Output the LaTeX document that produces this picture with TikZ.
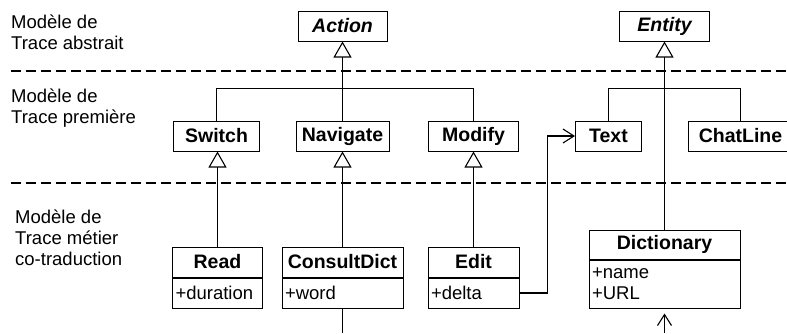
\documentclass[tikz,border=0pt]{standalone}
\usepackage{fontspec}
\setmainfont{Liberation Sans}
\usetikzlibrary{arrows.meta}
\tikzset{
	layer/.style={align=left, anchor=base west, inner sep=0pt,
			font=\fontsize{18.5bp}{21bp}\selectfont},
	cls/.style={draw, line width=1bp, minimum height=30bp, inner sep=0pt,
			font=\fontsize{19.5bp}{21bp}\selectfont\bfseries},
	abstractcls/.style={cls, font=\fontsize{19.5bp}{21bp}\selectfont\bfseries\itshape},
	attr/.style={draw, line width=1bp, anchor=north, minimum height=30bp,
			inner xsep=3bp, inner ysep=0pt, align=left,
			font=\fontsize{18.5bp}{21bp}\selectfont},
	gen/.style={line width=1.1bp, -{Triangle[open, width=18bp, length=16bp]}},
	nav/.style={line width=1.1bp, -{Straight Barb[width=14bp, length=11bp]}},
	link/.style={line width=1.1bp},
	layersep/.style={line width=1.5bp, dash pattern=on 10bp off 5bp}
}
\begin{document}
\begin{tikzpicture}[x=1bp, y=-1bp]
        \useasboundingbox (0,0) rectangle (787,333);
        \clip (0,0) rectangle (787,333);

        % Layer labels (anchored on the baseline of their last line)
        \node[layer] (abstrait) at (11,49) {Modèle de\\Trace abstrait};
        \node[layer] (premiere) at (11,123) {Modèle de\\Trace première};
        \node[layer] (metier) at (15,265) {Modèle de\\Trace métier\\co-traduction};

        % Layer separators
        \draw[layersep] (11,71) -- (787,71);
        \draw[layersep] (11,183) -- (787,183);

        % Abstract classes
        \node[abstractcls, minimum width=89bp] (Action) at (342.5,26) {Action};
        \node[abstractcls, minimum width=90bp] (Entity) at (664.5,26) {Entity};

        % First trace model
        \node[cls, minimum width=86bp] (Switch) at (216.5,136) {Switch};
        \node[cls, minimum width=93bp] (Navigate) at (342.5,136) {Navigate};
        \node[cls, minimum width=90bp] (Modify) at (473.5,136) {Modify};
        \node[cls, minimum width=66bp] (Text) at (608.5,136) {Text};
        \node[cls, minimum width=104bp] (ChatLine) at (740.5,136) {ChatLine};

        % Co-translation trace model
        \node[cls, minimum width=90bp] (Read) at (217.5,262) {Read};
        \node[attr, text width=84bp] (Readattr) at (Read.south) {+duration};
        \node[cls, minimum width=121bp] (ConsultDict) at (342.5,262) {ConsultDict};
        \node[attr, text width=115bp] (ConsultDictattr) at (ConsultDict.south) {+word};
        \node[cls, minimum width=91bp] (Edit) at (473.5,262) {Edit};
        \node[attr, text width=85bp] (Editattr) at (Edit.south) {+delta};
        \node[cls, minimum width=151bp, minimum height=29bp] (Dictionary) at (664.5,244.5) {Dictionary};
        \node[attr, text width=145bp, minimum height=48bp] (Dictionaryattr) at (Dictionary.south) {+name\\+URL};

        % Helper coordinates
        \coordinate (bar) at (0,88.5);
        \coordinate (bend) at (547.5,0);
        \coordinate (bottom) at (0,333);

        % Inheritance trees
        \draw[gen] (Action.south |- bar) -- (Action.south);
        \draw[link] (Switch.north) |- (Modify.north |- bar) -- (Modify.north);
        \draw[link] (Navigate.north) -- (Navigate.north |- bar);
        \draw[link] (Text.north) |- (ChatLine.north |- bar) -- (ChatLine.north);
        \draw[gen] (Dictionary.north) -- (Entity.south);

        \draw[gen] (Read.north) -- (Read.north |- Switch.south);
        \draw[gen] (ConsultDict.north) -- (ConsultDict.north |- Navigate.south);
        \draw[gen] (Edit.north) -- (Edit.north |- Modify.south);

        % Associations
        \draw[nav] (Editattr.east) -| (bend |- Text.west) -- (Text.west);
        \draw[link] (ConsultDictattr.south) -- (ConsultDictattr.south |- bottom);
        \draw[nav, shorten >=5bp] (Dictionaryattr.south |- bottom) -- (Dictionaryattr.south);
    \end{tikzpicture}
\end{document}
